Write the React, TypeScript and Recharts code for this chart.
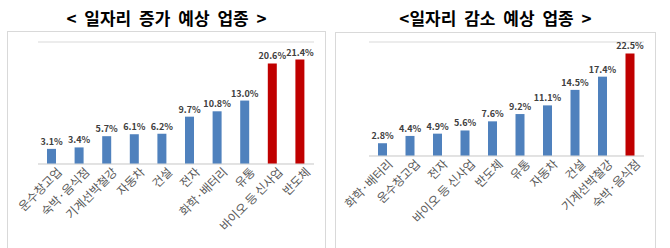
import { BarChart, Bar, XAxis, YAxis, CartesianGrid, LabelList, Cell } from 'recharts';

const FONT = '"Noto Sans CJK KR", "Noto Sans", sans-serif';

// 일자리 증가 예상 업종
const upCategories = ['운수창고업', '숙박·음식점', '기계선박철강', '자동차', '건설', '전자', '화학·배터리', '유통', '바이오 등 신사업', '반도체'];
const upValues = [3.1, 3.4, 5.7, 6.1, 6.2, 9.7, 10.8, 13.0, 20.6, 21.4];
const upHighlight = ['바이오 등 신사업', '반도체'];

// 일자리 감소 예상 업종
const downCategories = ['화학·배터리', '운수창고업', '전자', '바이오 등 신사업', '반도체', '유통', '자동차', '건설', '기계선박철강', '숙박·음식점'];
const downValues = [2.8, 4.4, 4.9, 5.6, 7.6, 9.2, 11.1, 14.5, 17.4, 22.5];
const downHighlight = ['숙박·음식점'];

const yTicks = [0, 5, 10, 15, 20, 25];

const BLUE = '#4F81BD';
const RED = '#C00000';

function RotatedTick(props: any) {
  const { x, y, payload } = props;
  return (
    <g transform={`translate(${x + 3},${y - 7})`}>
      <text
        transform="rotate(-45)"
        textAnchor="end"
        dominantBaseline="hanging"
        fontSize={12}
        fill="#595959"
        fontFamily={FONT}
      >
        {payload.value}
      </text>
    </g>
  );
}

type PanelProps = {
  title: string;
  categories: string[];
  values: number[];
  highlight: string[];
  left: number;
  top: number;
  width: number;
  plotLeft: number;
  plotTop: number;
  plotBottom: number;
};

function Panel({ title, categories, values, highlight, left, top, width, plotLeft, plotTop, plotBottom }: PanelProps) {
  const data = categories.map((name, i) => ({ name, value: values[i] }));
  const height = 248 - top;
  return (
    <>
      <div
        style={{
          position: 'absolute',
          left,
          top: 0,
          width,
          height: top,
          display: 'flex',
          alignItems: 'center',
          justifyContent: 'center',
          fontFamily: FONT,
          fontWeight: 700,
          fontSize: 17,
          wordSpacing: 4,
          color: '#000',
          paddingTop: 3,
          boxSizing: 'border-box',
          whiteSpace: 'pre',
        }}
      >
        {title}
      </div>
      <div
        style={{
          position: 'absolute',
          left,
          top,
          width,
          height: height + 2,
          border: '1px solid #D9D9D9',
          boxSizing: 'border-box',
          background: '#fff',
        }}
      >
        <BarChart
          width={width - 2}
          height={height}
          data={data}
          margin={{ top: plotTop, right: 10, bottom: 0, left: plotLeft }}
          style={{ position: 'absolute', left: -1, top: -1 }}
        >
          <CartesianGrid vertical={false} stroke="#D9D9D9" />
          <YAxis domain={[0, 25]} ticks={yTicks} width={0} tick={false} axisLine={false} tickLine={false} />
          <XAxis
            dataKey="name"
            interval={0}
            height={height - plotBottom}
            tick={<RotatedTick />}
            tickLine={false}
            axisLine={{ stroke: '#D9D9D9' }}
          />
          <Bar dataKey="value" barSize={9} isAnimationActive={false}>
            {data.map((d) => (
              <Cell key={d.name} fill={highlight.includes(d.name) ? RED : BLUE} />
            ))}
            <LabelList
              dataKey="value"
              position="top"
              offset={4}
              formatter={(v: any) => `${Number(v).toFixed(1)}%`}
              style={{ fontSize: 9, fontWeight: 700, fill: '#404040', fontFamily: FONT }}
            />
          </Bar>
        </BarChart>
      </div>
    </>
  );
}

export default function App() {
  return (
    <div style={{ position: 'absolute', left: 0, top: 0, width: 670, height: 248, background: '#fff', overflow: 'hidden' }}>
      <Panel
        title="< 일자리 증가 예상 업종 >"
        categories={upCategories}
        values={upValues}
        highlight={upHighlight}
        left={7}
        top={31}
        width={319}
        plotLeft={31}
        plotTop={11}
        plotBottom={133}
      />
      <Panel
        title="<일자리 감소 예상 업종 >"
        categories={downCategories}
        values={downValues}
        highlight={downHighlight}
        left={335}
        top={32}
        width={321}
        plotLeft={34}
        plotTop={10}
        plotBottom={124}
      />
    </div>
  );
}
